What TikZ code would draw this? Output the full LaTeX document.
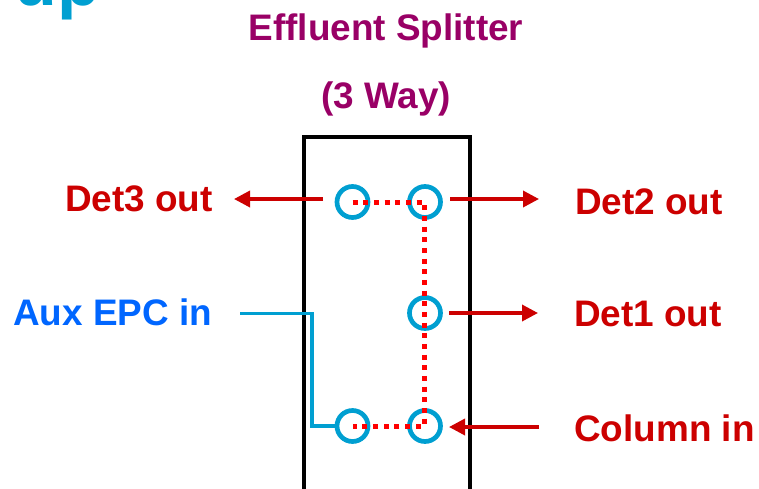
\documentclass[tikz,border=0pt]{standalone}
\usepackage{fontspec}
\setmainfont{Liberation Sans}
\usetikzlibrary{arrows.meta}
\definecolor{logoblue}{HTML}{009FD1}
\definecolor{titlepurple}{HTML}{990066}
\definecolor{labelred}{HTML}{CC0000}
\definecolor{auxblue}{HTML}{0066FF}
\tikzset{
    port/.style={circle,draw=logoblue,line width=4.7pt,minimum size=31pt,inner sep=0pt},
    redlabel/.style={anchor=base west,inner sep=0pt,text=labelred,font=\fontsize{36.9}{40}\selectfont\bfseries},
    titlelabel/.style={anchor=base,inner sep=0pt,text=titlepurple,font=\fontsize{36.9}{40}\selectfont\bfseries},
    flow/.style={labelred,line width=3.5pt,-{Triangle[length=16pt,width=16pt]}},
    channel/.style={red,line width=5pt,dash pattern=on 5pt off 5.67pt}
}
\begin{document}
\begin{tikzpicture}[x=1pt,y=-1pt]
    \useasboundingbox (0,0) rectangle (759,488);
    \begin{scope}
        \clip (0,0) rectangle (759,488);
        \node[anchor=base west,inner sep=0pt,text=logoblue,font=\fontsize{70}{72}\selectfont\bfseries] (logo) at (14.4,5) {up};
        \draw[line width=4pt] (304,495) -- (304,137) -- (470,137) -- (470,495);
    \end{scope}
    % titles
    \node[titlelabel] (title) at (386,40) {Effluent Splitter};
    \node[titlelabel] (way) at (386,108) {(3 Way)};
    % ports
    \node[port] (topl) at (352.5,202) {};
    \node[port] (topr) at (425,202) {};
    \node[port] (midr) at (425,313) {};
    \node[port] (botl) at (352.5,426) {};
    \node[port] (botr) at (425,426) {};
    \draw[channel] (topl.center) -- ([xshift=-1pt]topr.center) -- ([xshift=-1pt]botr.center) -- (botl.center);
    % labels
    \node[redlabel] (det3) at (65,211) {Det3 out};
    \node[redlabel] (det2) at (575,214) {Det2 out};
    \node[redlabel] (det1) at (574,326) {Det1 out};
    \node[redlabel] (colin) at (574,441) {Column in};
    \node[redlabel,text=auxblue] (aux) at (13,325) {Aux EPC in};
    % connections
    \coordinate (det3a) at (323,199);
    \coordinate (det3b) at (234,199);
    \coordinate (det2a) at (450,199);
    \coordinate (det2b) at (539,199);
    \coordinate (det1a) at (449,313);
    \coordinate (det1b) at (538,313);
    \coordinate (cola) at (539,427);
    \coordinate (colb) at (449,427);
    \coordinate (auxa) at (240,313.5);
    \coordinate (auxb) at (312,313.5);
    \draw[flow] (det3a) -- (det3b);
    \draw[flow] (det2a) -- (det2b);
    \draw[flow] (det1a) -- (det1b);
    \draw[flow] (cola) -- (colb);
    \draw[logoblue,line width=3.3pt] (auxa) -- (auxb) |- (botl.west);
\end{tikzpicture}
\end{document}
